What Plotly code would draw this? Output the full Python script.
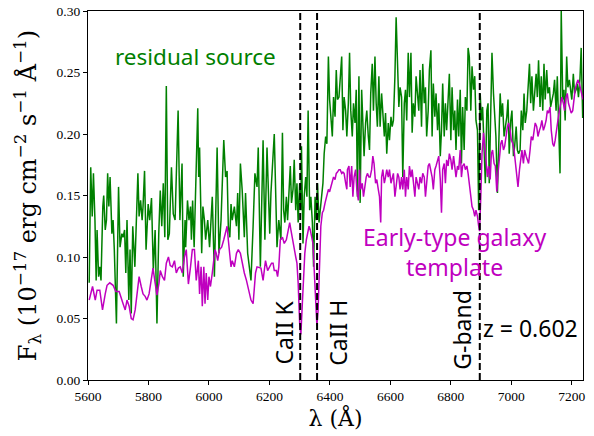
import plotly.graph_objects as go

# ---------------- data ----------------
green_wl = [5604,5609,5614,5618,5623,5627,5630,5635,5639,5643,5649,5652,5657,5661,5665,5669,5673,5679,5683,5687,5694,5701,5706,5712,5716,5721,5725,5729,5735,5739,5743,5748,5755,5765,5769,5774,5779,5782,5787,5792,5799,5804,5810,5816,5822,5828,5834,5839,5844,5849,5854,5859,5864,5869,5876,5882,5888,5898,5904,5911,5915,5921,
            5923,5929,5934,5939,5942,5946,5951,5955,5963,5966,5969,5976,5980,5985,5989,5996,6002,6011,6018,6027,6033,6040,6049,6055,6060,6064,6069,6073,6077,6084,6091,6095,6099,6104,6110,6117,6121,6128,6139,6146,6152,6159,6163,6170,6179,6185,6192,6201,6205,6216,6225,6231,6238,
            6243,6247,6251,6256,6260,6265,6269,6273,6278,6282,6287,6291,6295,6300,6304,6306,6311,6315,6320,6324,6328,6333,6337,6342,6346,6351,6355,6359,6364,6368,6373,6377,6381,6386,6390,6395,6399,6403,6408,6412,6417,6421,6425,6430,6434,6439,6443,6447,6452,6456,6461,6465,6469,6474,6478,6483,6487,6491,6496,6500,6505,6509,6513,6518,6522,6527,6531,6535,6540,6544,6549,6553,6557,6562,6566,6571,
            6575,6580,6584,6588,6593,6597,6602,6606,6610,6615,6619,6624,6628,6632,6637,6641,6646,6650,6654,6659,6663,6668,6672,6676,6681,6685,6690,6694,6698,6703,6707,6712,6716,6720,6725,6729,6734,6738,6742,6747,6751,6756,6760,6765,6769,6773,6778,6782,6786,6791,6795,6800,6804,6809,6813,6817,6822,6826,6831,6835,6839,6844,6848,6853,6857,6861,6866,6870,6875,6879,6883,6888,6892,
            6897,6901,6905,6910,6914,6919,6923,6927,6932,6936,6941,6945,6949,6954,6958,6963,6967,6971,6976,6980,6985,6989,6993,6998,7002,7007,7011,7016,7020,7024,7029,7033,7038,7042,7046,7051,7055,7060,7064,7068,7073,7077,7082,7086,7090,7095,7099,7104,7108,7112,7117,7121,7126,7130,7134,7139,7143,7148,7152,7156,7161,7165,7170,7174,7178,7183,7187,7192,7196,7200,7205,7209,7214,7218,7222,7227,7231,7236]
green_flux = [0.079,0.173,0.133,0.168,0.130,0.081,0.122,0.084,0.092,0.081,0.141,0.150,0.122,0.130,0.168,0.141,0.165,0.119,0.130,0.106,0.046,0.157,0.108,0.119,0.116,0.122,0.087,0.130,0.065,0.106,0.054,0.125,0.092,0.168,0.133,0.146,0.130,0.141,0.170,0.106,0.143,0.130,0.148,0.089,0.122,0.046,0.119,0.154,0.125,0.160,0.116,0.239,0.114,0.119,0.173,0.135,0.130,0.219,0.130,0.176,0.084,0.130,
              0.108,0.146,0.130,0.141,0.114,0.146,0.108,0.152,0.221,0.165,0.189,0.103,0.141,0.130,0.114,0.130,0.108,0.149,0.084,0.189,0.103,0.130,0.195,0.165,0.170,0.125,0.116,0.143,0.130,0.141,0.125,0.152,0.114,0.176,0.154,0.116,0.152,0.103,0.081,0.125,0.168,0.157,0.189,0.092,0.195,0.114,0.189,0.119,0.152,0.200,0.108,0.130,0.114,
              0.201,0.138,0.128,0.149,0.130,0.155,0.174,0.144,0.155,0.179,0.138,0.160,0.128,0.160,0.138,0.190,0.111,0.149,0.165,0.149,0.219,0.138,0.149,0.128,0.092,0.149,0.130,0.160,0.128,0.138,0.149,0.160,0.184,0.198,0.192,0.263,0.228,0.214,0.198,0.230,0.214,0.252,0.228,0.230,0.247,0.263,0.203,0.230,0.219,0.198,0.225,0.266,0.219,0.198,0.225,0.209,0.236,0.149,0.247,0.144,0.236,0.198,0.182,0.209,0.219,0.198,0.187,0.233,0.257,0.219,0.263,0.225,0.206,0.247,0.206,0.233,
              0.214,0.198,0.217,0.184,0.209,0.195,0.214,0.206,0.211,0.247,0.295,0.260,0.222,0.238,0.230,0.165,0.225,0.236,0.211,0.266,0.230,0.266,0.201,0.225,0.214,0.247,0.230,0.219,0.252,0.206,0.257,0.225,0.238,0.198,0.219,0.252,0.268,0.198,0.241,0.214,0.233,0.203,0.225,0.182,0.203,0.241,0.198,0.225,0.203,0.228,0.249,0.195,0.238,0.203,0.219,0.187,0.228,0.198,0.236,0.176,0.222,0.187,0.230,0.219,0.270,0.263,0.219,0.255,0.236,0.247,0.211,0.203,0.138,
              0.233,0.211,0.222,0.192,0.160,0.219,0.225,0.160,0.230,0.266,0.233,0.219,0.198,0.152,0.192,0.233,0.214,0.225,0.198,0.206,0.214,0.228,0.184,0.211,0.219,0.182,0.190,0.206,0.187,0.184,0.187,0.219,0.203,0.233,0.209,0.219,0.236,0.257,0.225,0.247,0.219,0.236,0.249,0.230,0.260,0.222,0.247,0.219,0.257,0.228,0.252,0.233,0.238,0.222,0.228,0.233,0.244,0.219,0.247,0.211,0.168,0.300,0.228,0.236,0.211,0.263,0.238,0.244,0.233,0.228,0.249,0.233,0.236,0.241,0.230,0.245,0.270,0.213]

template_wl = [5604,5608,5615,5624,5630,5639,5648,5657,5663,5672,5683,5692,5703,5716,5723,5729,5736,5743,5749,5756,5762,5769,5776,5782,5789,5795,5802,5809,5815,5822,5828,5835,5839,5846,5853,5859,5866,5872,5879,5886,5892,5899,5905,5912,5919,
               5925,5932,5939,5945,5952,5958,5965,5969,5974,5978,5983,5987,5991,5996,6000,6005,6011,6016,6020,6024,6029,6035,6042,6049,6055,6060,6064,6069,6073,6077,6084,6091,6097,6104,6110,6117,6124,6128,6135,6139,6146,6150,6154,6159,6172,6179,6183,6187,6194,6201,6207,6212,6216,6223,6227,6231,6236,6243,
               6249,6256,6262,6267,6271,6276,6282,6287,6291,6295,6300,6304,6309,6313,6317,6322,6326,6331,6335,6339,6344,6348,6353,6357,6361,6366,6370,6375,6379,6384,6390,6395,6399,6403,6408,6412,6417,6421,6425,6430,6434,6439,6443,6447,6452,6456,6458,6463,6467,6472,6476,6480,6485,6489,6494,6498,6502,6507,6511,6516,6520,6524,6529,6533,6538,6542,6546,6551,6555,6560,6564,6568,
               6571,6575,6580,6584,6588,6593,6597,6602,6606,6610,6615,6619,6624,6628,6632,6637,6641,6646,6650,6654,6659,6663,6668,6672,6676,6681,6685,6690,6694,6698,6703,6707,6712,6716,6720,6725,6729,6734,6738,6742,6747,6751,6756,6760,6765,6769,6773,6778,6782,6786,6791,6795,6800,6804,6809,6813,6817,6822,6826,6831,6835,6839,6844,6848,6853,6857,6861,6866,6870,6875,6879,6883,6888,6892,
               6895,6899,6903,6908,6912,6916,6921,6925,6930,6934,6938,6943,6947,6952,6956,6960,6965,6969,6974,6978,6982,6987,6991,6996,7000,7005,7009,7013,7018,7022,7027,7031,7035,7040,7044,7049,7053,7057,7062,7066,7071,7075,7079,7084,7088,7093,7097,7101,7106,7110,7115,7119,7123,7128,7132,7137,7141,7145,7150,7154,7159,7163,7167,7172,7176,7181,7185,7189,7194,7198,7203,7207,7211,7216,7220,7225,7229,7233,7237]
template_flux = [0.065,0.070,0.076,0.065,0.073,0.073,0.057,0.070,0.077,0.079,0.077,0.072,0.072,0.062,0.057,0.065,0.060,0.050,0.049,0.057,0.070,0.084,0.076,0.070,0.068,0.065,0.070,0.081,0.091,0.079,0.069,0.079,0.089,0.084,0.081,0.095,0.100,0.093,0.092,0.097,0.087,0.091,0.092,0.087,0.100,
                 0.106,0.078,0.092,0.106,0.106,0.081,0.097,0.070,0.092,0.060,0.092,0.062,0.087,0.065,0.084,0.076,0.087,0.097,0.106,0.103,0.097,0.106,0.108,0.114,0.119,0.125,0.114,0.103,0.092,0.097,0.092,0.103,0.106,0.103,0.095,0.087,0.081,0.076,0.070,0.065,0.062,0.076,0.087,0.092,0.091,0.081,0.092,0.097,0.089,0.092,0.095,0.095,0.089,0.089,0.084,0.092,0.114,0.116,
                 0.111,0.114,0.122,0.128,0.122,0.114,0.106,0.100,0.095,0.079,0.046,0.037,0.063,0.087,0.103,0.114,0.119,0.125,0.122,0.117,0.111,0.090,0.057,0.044,0.057,0.106,0.125,0.136,0.138,0.144,0.149,0.155,0.153,0.157,0.163,0.165,0.163,0.168,0.169,0.171,0.171,0.168,0.169,0.168,0.160,0.155,0.171,0.174,0.157,0.174,0.149,0.165,0.171,0.155,0.146,0.171,0.155,0.160,0.149,0.160,0.165,0.168,0.165,0.165,0.171,0.182,0.176,0.160,0.163,0.155,0.149,0.128,
                 0.165,0.171,0.160,0.165,0.171,0.165,0.171,0.160,0.165,0.168,0.149,0.160,0.168,0.165,0.155,0.165,0.155,0.171,0.149,0.165,0.155,0.174,0.165,0.171,0.160,0.149,0.165,0.160,0.155,0.165,0.160,0.168,0.165,0.149,0.163,0.174,0.176,0.171,0.165,0.155,0.171,0.174,0.179,0.182,0.163,0.136,0.171,0.176,0.160,0.179,0.174,0.184,0.179,0.171,0.182,0.171,0.165,0.174,0.171,0.187,0.165,0.174,0.176,0.171,0.174,0.168,0.160,0.149,0.141,0.138,0.133,0.138,0.133,0.125,
                 0.121,0.149,0.184,0.201,0.192,0.179,0.165,0.174,0.163,0.184,0.187,0.176,0.174,0.153,0.168,0.182,0.192,0.195,0.187,0.190,0.198,0.206,0.209,0.203,0.195,0.192,0.187,0.179,0.168,0.157,0.171,0.182,0.187,0.176,0.187,0.182,0.179,0.176,0.187,0.198,0.195,0.203,0.209,0.206,0.198,0.203,0.206,0.211,0.203,0.206,0.211,0.219,0.217,0.222,0.203,0.192,0.190,0.195,0.206,0.211,0.219,0.225,0.230,0.225,0.219,0.230,0.233,0.225,0.219,0.217,0.219,0.228,0.236,0.241,0.244,0.241,0.236,0.230,0.228]

if len(green_wl) != len(green_flux) or len(template_wl) != len(template_flux):
    raise ValueError(f"length mismatch {len(green_wl)} {len(green_flux)} {len(template_wl)} {len(template_flux)}")

redshift = 0.602
line_names = ["CaII K", "CaII H", "G-band"]
line_rest = [3933.7, 3968.5, 4304.4]
line_obs = [w * (1 + redshift) for w in line_rest]

x_ticks = [5600, 5800, 6000, 6200, 6400, 6600, 6800, 7000, 7200]
y_ticks = [0.00, 0.05, 0.10, 0.15, 0.20, 0.25, 0.30]

GREEN = "#008000"
MAGENTA = "#bf00bf"
SANS = "Noto Sans"
SERIF = "Liberation Serif"
TITLE_SERIF = "DejaVu Serif"

fig = go.Figure()
fig.add_trace(go.Scatter(x=green_wl, y=green_flux, mode="lines",
                         line=dict(color=GREEN, width=1.5), showlegend=False))
fig.add_trace(go.Scatter(x=template_wl, y=template_flux, mode="lines",
                         line=dict(color=MAGENTA, width=1.5), showlegend=False))

for xo in line_obs:
    fig.add_shape(type="line", x0=xo, x1=xo, y0=0, y1=1, xref="x", yref="paper",
                  line=dict(color="black", width=2, dash="7px,3px"), layer="above")

# line labels (rotated)
label_x = [6248, 6424, 6834]
label_y = [0.0386, 0.0386, 0.041]
for name, lx, ly in zip(line_names, label_x, label_y):
    fig.add_annotation(x=lx, y=ly, text=name, showarrow=False, textangle=-90,
                       xanchor="center", yanchor="middle",
                       font=dict(family=SANS, size=23, color="black"))

fig.add_annotation(x=7062, y=0.042, text=f"z = {redshift:.3f}", showarrow=False,
                   xanchor="center", yanchor="middle",
                   font=dict(family=SANS, size=23, color="black"))
fig.add_annotation(x=5955, y=0.263, text="residual source", showarrow=False,
                   xanchor="center", yanchor="middle",
                   font=dict(family=SANS, size=22.5, color=GREEN))
fig.add_annotation(x=6811, y=0.104, text="Early-type galaxy<br>template", showarrow=False,
                   xanchor="center", yanchor="middle", align="center",
                   font=dict(family=SANS, size=23, color=MAGENTA))

fig.update_layout(
    width=594, height=436,
    margin=dict(l=88, r=11, t=11, b=56),
    paper_bgcolor="white", plot_bgcolor="white",
    showlegend=False,
)
fig.update_xaxes(range=[5600, 7237], tickvals=x_ticks, ticks="outside", ticklen=4,
                 tickwidth=1, tickcolor="black", showline=True, linecolor="black",
                 linewidth=1.2, mirror=True, showgrid=False, zeroline=False,
                 automargin=False,
                 tickfont=dict(family=SERIF, size=13.5, color="black"),
                 title=dict(text="λ (Å)", font=dict(family=TITLE_SERIF, size=22, color="black"),
                            standoff=4))
fig.update_yaxes(range=[0, 0.30], tickvals=y_ticks, tickformat=".2f", ticks="outside",
                 ticklen=4, tickwidth=1, tickcolor="black", showline=True,
                 linecolor="black", linewidth=1.2, mirror=True, showgrid=False,
                 zeroline=False, automargin=False,
                 tickfont=dict(family=SERIF, size=13.5, color="black"),
                 title=dict(text="F<sub>λ</sub> (10<sup>−17</sup> erg cm<sup>−2</sup> s<sup>−1</sup> Å<sup>−1</sup>)",
                            font=dict(family=TITLE_SERIF, size=24, color="black"),
                            standoff=13))

fig.write_html("out.html", config={"displayModeBar": False},
               post_script="document.body.style.margin='0';document.body.style.padding='0';")
